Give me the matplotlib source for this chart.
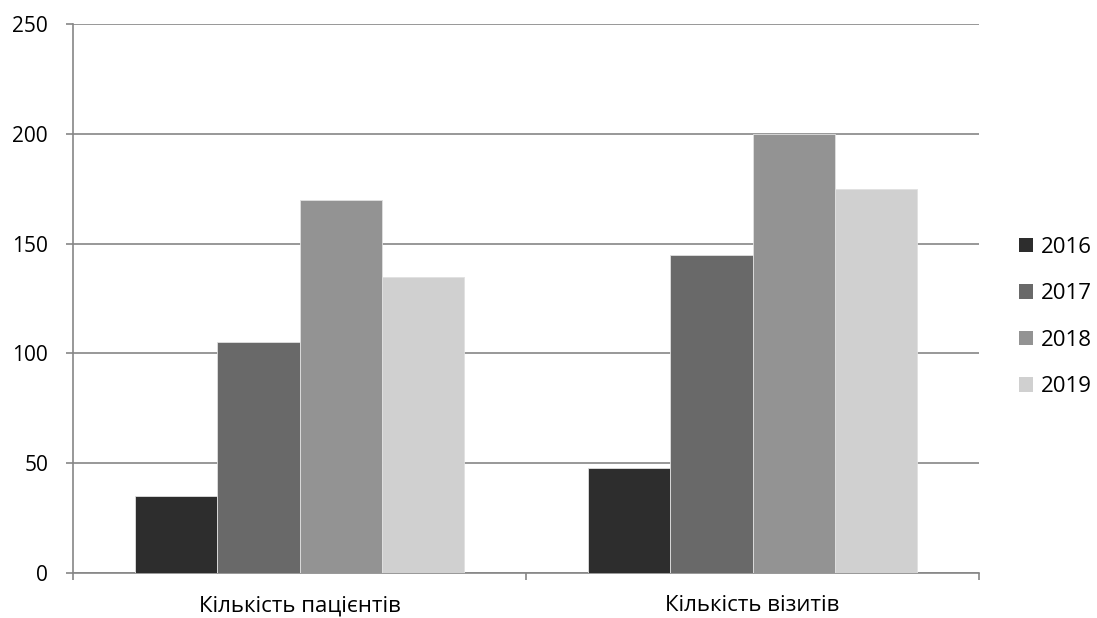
import matplotlib
matplotlib.use("Agg")
import matplotlib.pyplot as plt
import numpy as np

categories = ["Кількість пацієнтів", "Кількість візитів"]
years = ["2016", "2017", "2018", "2019"]
values_2016 = [35, 48]
values_2017 = [105, 145]
values_2018 = [170, 200]
values_2019 = [135, 175]
series = [values_2016, values_2017, values_2018, values_2019]
colors = ["#2d2d2d", "#696969", "#939393", "#d0d0d0"]

plt.rcParams['font.family'] = ['Open Sans', 'DejaVu Sans']

fig = plt.figure(figsize=(10.97, 6.18), dpi=100)
ax = fig.add_axes([73/1097, 45/618, (979-73)/1097, (573-24)/618])

x = np.arange(len(categories))
w = 0.182
for i, (vals, c, lab) in enumerate(zip(series, colors, years)):
    ax.bar(x + (i - 1.5) * w, vals, width=w, color=c, label=lab,
           edgecolor="#e0e0e0", linewidth=0.6, zorder=3)

ax.set_xlim(-0.5, 1.5)
ax.set_ylim(0, 250)
ax.set_yticks([0, 50, 100, 150, 200, 250])
ax.yaxis.grid(True, color="#868686", linewidth=1.2, zorder=0)
ax.set_axisbelow(True)

ax.set_xticks([-0.5, 0.5, 1.5], minor=False)
ax.set_xticklabels([])
ax.set_xticks(x, minor=True)
ax.set_xticklabels(categories, minor=True)
ax.tick_params(axis='x', which='minor', length=0, pad=16, labelsize=16)
ax.tick_params(axis='x', which='major', length=5, color="#868686", width=1.2)
ax.tick_params(axis='y', length=5, color="#868686", width=1.2, labelsize=15, pad=13)

for s in ["top", "right"]:
    ax.spines[s].set_visible(False)
for s in ["left", "bottom"]:
    ax.spines[s].set_color("#868686")
    ax.spines[s].set_linewidth(1.2)

leg = fig.legend(loc="center left", bbox_to_anchor=(0.929, 0.487), frameon=False,
                 fontsize=16, handlelength=0.64, handleheight=0.64, handletextpad=0.36,
                 labelspacing=1.15, borderpad=0, borderaxespad=0)
for h in leg.legend_handles:
    h.set_edgecolor("none")

fig.savefig("out.png", dpi=100)
